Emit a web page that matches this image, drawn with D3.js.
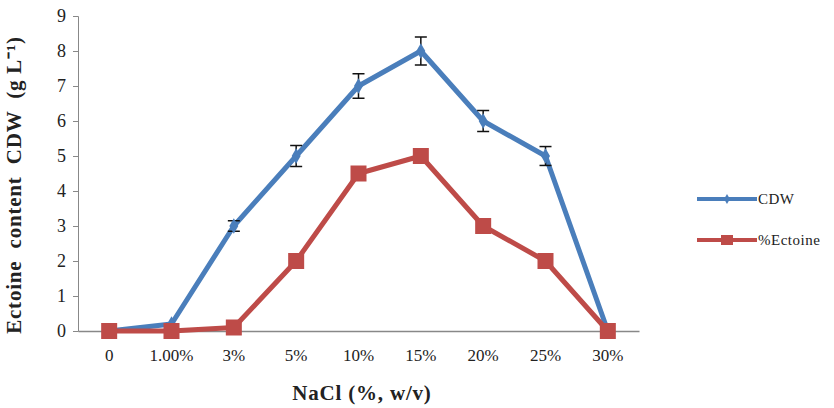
<!DOCTYPE html>
<html>
<head>
<meta charset="utf-8">
<script src="https://cdn.jsdelivr.net/npm/d3@7"></script>
<style>
body { margin: 0; background: #fff; }
svg text { font-family: "Liberation Serif", "Times New Roman", serif; }
</style>
</head>
<body>
<div id="chart-area"></div>
<script>
var categories = ["0", "1.00%", "3%", "5%", "10%", "15%", "20%", "25%", "30%"];
var cdw = [0, 0.2, 3, 5, 7, 8, 6, 5, 0];
var cdwErr = [0, 0, 0.15, 0.3, 0.35, 0.4, 0.3, 0.27, 0];
var ectoine = [0, 0, 0.1, 2, 4.5, 5, 3, 2, 0];
var yTicks = [0, 1, 2, 3, 4, 5, 6, 7, 8, 9];

var svg = d3.select("#chart-area").append("svg")
	.attr("width", 834)
	.attr("height", 408);

var x = d3.scaleBand()
	.domain(categories)
	.range([78, 639]);

var y = d3.scaleLinear()
	.domain([0, 9])
	.range([331, 16]);

var blue = "#4a7ebb";
var red = "#be4b48";
var serif = "'Liberation Serif', 'Times New Roman', serif";

// y axis
var yAxis = svg.append("g")
	.attr("transform", "translate(78,0)")
	.call(d3.axisLeft(y).tickValues(yTicks).tickSize(5).tickPadding(7));
yAxis.select(".domain").attr("stroke", "#888");
yAxis.selectAll(".tick line").attr("stroke", "#888");
yAxis.selectAll("text")
	.style("font-family", serif)
	.style("font-size", "18px")
	.attr("fill", "#222");

// x axis
var xAxis = svg.append("g")
	.attr("transform", "translate(0,331)")
	.call(d3.axisBottom(x).tickSize(0).tickPadding(18));
xAxis.select(".domain").attr("stroke", "#888").attr("stroke-width", 1.5);
xAxis.selectAll("text")
	.style("font-family", serif)
	.style("font-size", "17px")
	.attr("fill", "#222");

var cx = (d, i) => x(categories[i]) + x.bandwidth() / 2;

var line = d3.line()
	.x((d, i) => cx(d, i))
	.y(d => y(d));

// CDW series
svg.append("path")
	.datum(cdw)
	.attr("d", line)
	.attr("fill", "none")
	.attr("stroke", blue)
	.attr("stroke-width", 5)
	.attr("stroke-linejoin", "round");

// error bars
for (let i = 0; i < cdw.length; i++)
{
	if (cdwErr[i] <= 0) continue;
	var g = svg.append("g").attr("stroke", "#111").attr("stroke-width", 1.5);
	var px = cx(null, i);
	g.append("line").attr("x1", px).attr("x2", px)
		.attr("y1", y(cdw[i] - cdwErr[i])).attr("y2", y(cdw[i] + cdwErr[i]));
	g.append("line").attr("x1", px - 6).attr("x2", px + 6)
		.attr("y1", y(cdw[i] + cdwErr[i])).attr("y2", y(cdw[i] + cdwErr[i]));
	g.append("line").attr("x1", px - 6).attr("x2", px + 6)
		.attr("y1", y(cdw[i] - cdwErr[i])).attr("y2", y(cdw[i] - cdwErr[i]));
}

svg.selectAll(".diamond")
	.data(cdw)
	.enter().append("path")
	.attr("d", d3.symbol().type(d3.symbolDiamond).size(70))
	.attr("transform", (d, i) => "translate(" + cx(d, i) + "," + y(d) + ")")
	.attr("fill", blue);

// Ectoine series
svg.append("path")
	.datum(ectoine)
	.attr("d", line)
	.attr("fill", "none")
	.attr("stroke", red)
	.attr("stroke-width", 5)
	.attr("stroke-linejoin", "round");

svg.selectAll(".square")
	.data(ectoine)
	.enter().append("rect")
	.attr("x", (d, i) => cx(d, i) - 8)
	.attr("y", d => y(d) - 8)
	.attr("width", 16)
	.attr("height", 16)
	.attr("fill", red);

// axis titles
svg.append("text")
	.attr("transform", "translate(21,185) rotate(-90)")
	.attr("text-anchor", "middle")
	.style("font-family", serif)
	.style("font-size", "21px")
	.style("font-weight", "bold")
	.style("letter-spacing", "0.8px")
	.style("white-space", "pre")
	.attr("fill", "#222")
	.text("Ectoine  content  CDW  (g L\u207B\u00B9)");

svg.append("text")
	.attr("x", 362)
	.attr("y", 400)
	.attr("text-anchor", "middle")
	.style("font-family", serif)
	.style("font-size", "21px")
	.style("font-weight", "bold")
	.style("letter-spacing", "0.8px")
	.attr("fill", "#222")
	.text("NaCl (%, w/v)");

// legend
var legend = [
	{ name: "CDW", color: blue, y: 199 },
	{ name: "%Ectoine", color: red, y: 240 }
];
legend.forEach(function (l, i) {
	svg.append("line")
		.attr("x1", 697).attr("x2", 757)
		.attr("y1", l.y).attr("y2", l.y)
		.attr("stroke", l.color).attr("stroke-width", 4);
	if (i === 0) {
		svg.append("path")
			.attr("d", d3.symbol().type(d3.symbolDiamond).size(30))
			.attr("transform", "translate(727," + l.y + ")")
			.attr("fill", l.color);
	} else {
		svg.append("rect")
			.attr("x", 721).attr("y", l.y - 5)
			.attr("width", 12).attr("height", 10)
			.attr("fill", l.color);
	}
	svg.append("text")
		.attr("x", 758).attr("y", l.y + 5)
		.style("font-family", serif)
		.style("font-size", "15px")
		.style("letter-spacing", "0.5px")
		.attr("fill", "#222")
		.text(l.name);
});
</script>
</body>
</html>
